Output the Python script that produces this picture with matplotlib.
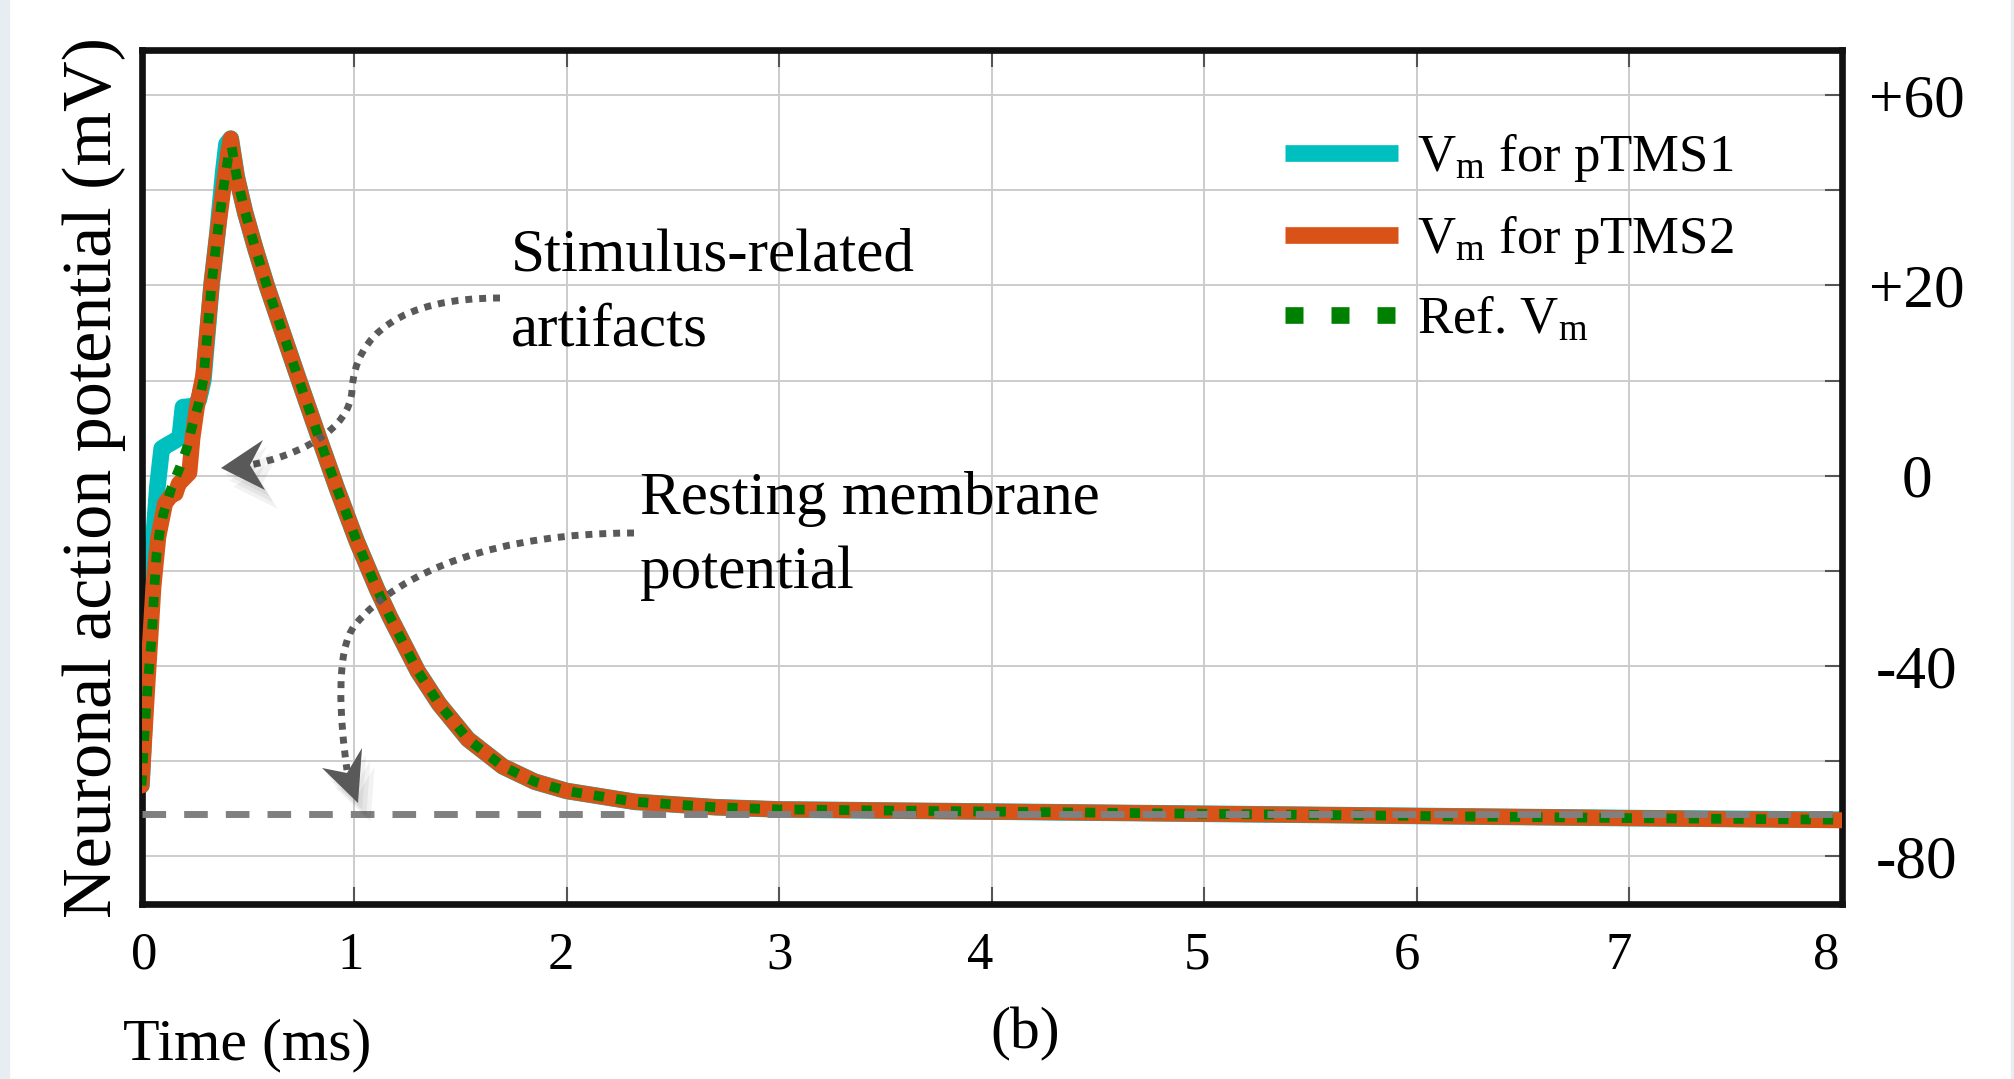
import matplotlib
matplotlib.use("Agg")
import matplotlib.pyplot as plt
import matplotlib.transforms as mtransforms
import matplotlib.patheffects as pe
from matplotlib.lines import Line2D
from matplotlib.path import Path
from matplotlib.patches import PathPatch, Polygon, Rectangle

plt.rcParams['font.family'] = ['Liberation Serif', 'DejaVu Serif']
plt.rcParams['mathtext.fontset'] = 'custom'
plt.rcParams['mathtext.rm'] = 'Liberation Serif'
plt.rcParams['mathtext.it'] = 'Liberation Serif:italic'

# ---- data (time in ms, membrane potential) ----
t_ref = [0.0, 0.015, 0.03, 0.048, 0.06, 0.071, 0.087, 0.103, 0.142, 0.181, 0.213,
         0.236, 0.267, 0.291, 0.33, 0.357, 0.385, 0.408, 0.424, 0.448, 0.487, 0.534,
         0.589, 0.667, 0.73, 0.824, 0.918, 1.012, 1.107, 1.169, 1.3, 1.4, 1.536, 1.7,
         1.85, 2.0, 2.32, 2.7, 3.0, 4.0, 5.0, 6.0, 7.0, 8.0]
v_ref = [-67.0, -57.0, -48.0, -39.7, -31.0, -24.3, -20.0, -17.0, -12.1, -8.4, -5.0,
         -1.3, 3.0, 7.6, 25.3, 34.5, 42.8, 48.6, 50.5, 45.0, 38.5, 32.0,
         25.0, 16.0, 8.8, -1.8, -12.2, -22.0, -30.8, -36.0, -46.0, -52.0, -58.5, -63.5,
         -66.3, -68.0, -70.0, -71.0, -71.4, -71.8, -72.2, -72.6, -73.0, -73.3]

# pTMS1: artifact steps on the upstroke, then follows the reference
t_p1 = [0.0, 0.02, 0.05, 0.075, 0.095, 0.12, 0.16, 0.18, 0.195, 0.25, 0.27, 0.291,
        0.33, 0.357, 0.385, 0.40, 0.42, 0.448, 0.487, 0.534, 0.589, 0.667, 0.73, 0.824,
        0.918, 1.012, 1.107, 1.169, 1.3, 1.4, 1.536, 1.7, 1.85, 2.0, 2.32, 2.7, 3.0,
        4.0, 5.0, 6.0, 7.0, 8.0]
v_p1 = [-67.0, -50.0, -25.0, -12.0, -5.0, -4.4, -3.5, -3.0, 2.6, 2.8, 4.0, 7.6,
        25.3, 34.5, 46.0, 51.0, 52.0, 45.0, 38.5, 32.0, 25.0, 16.0, 8.8, -1.8,
        -12.2, -22.0, -30.8, -36.0, -46.0, -52.0, -58.5, -63.5, -66.3, -68.0, -70.0, -71.0, -71.4,
        -71.8, -72.2, -72.6, -73.0, -73.3]

# pTMS2: smaller artifact steps
t_p2 = [0.0, 0.015, 0.03, 0.04, 0.056, 0.079, 0.111, 0.142, 0.16, 0.175, 0.2, 0.225,
        0.24, 0.26, 0.291, 0.33, 0.357, 0.385, 0.408, 0.42, 0.448, 0.487, 0.534, 0.589,
        0.667, 0.73, 0.824, 0.918, 1.012, 1.107, 1.169, 1.3, 1.4, 1.536, 1.7, 1.85,
        2.0, 2.32, 2.7, 3.0, 4.0, 5.0, 6.0, 7.0, 8.0]
v_p2 = [-67.0, -57.0, -47.0, -40.9, -30.5, -21.3, -15.1, -13.5, -13.3, -11.5, -10.5, -9.5,
        -3.0, 2.5, 8.5, 25.3, 34.5, 42.8, 49.5, 52.0, 45.0, 38.5, 32.0, 25.0,
        16.0, 8.8, -1.8, -12.2, -22.0, -30.8, -36.0, -46.0, -52.0, -58.5, -63.5, -66.3,
        -68.0, -70.0, -71.0, -71.4, -71.8, -72.2, -72.6, -73.0, -73.4]

rest_v = -72.2

x_ticks = [0, 1, 2, 3, 4, 5, 6, 7, 8]
y_grid = [60, 42.5, 25, 7.5, -10, -27.5, -45, -62.5, -80]
y_labels = ['+60', '', '+20', '', '0', '', '-40', '', '-80']
series_labels = [r'V$_{\rm m}$ for pTMS1', r'V$_{\rm m}$ for pTMS2', r'Ref. V$_{\rm m}$']

c_p1 = '#00BFBF'
c_p2 = '#D95319'
c_ref = '#008000'

W, H = 2015, 1079
fig = plt.figure(figsize=(W / 100, H / 100), dpi=100)
px = mtransforms.Affine2D().scale(1 / W, -1 / H).translate(0, 1) + fig.transFigure

# light side strips
fig.add_artist(Rectangle((0, 0), 9, H, transform=px, color='#e8edf2', zorder=0))
fig.add_artist(Rectangle((W - 4, 0), 4, H, transform=px, color='#e8edf2', zorder=0))

ax = fig.add_axes([141.5 / W, 1 - 904 / H, (1842 - 141.5) / W, (904 - 50) / H])

ax.plot(t_p1, v_p1, color=c_p1, lw=12, solid_capstyle='round', solid_joinstyle='round', zorder=2)
ax.plot(t_p2, v_p2, color=c_p2, lw=11.5, solid_capstyle='round', solid_joinstyle='round', zorder=3)
ax.plot(t_ref, v_ref, color=c_ref, lw=7, ls=(0, (1.05, 1.25)), dash_capstyle='butt', zorder=4)
ax.axhline(rest_v, color='#808080', lw=5, ls=(0, (3.4, 2.6)), dash_capstyle='butt', zorder=5)

ax.set_xlim(0, 8)
ax.set_ylim(-88.8, 68.3)
ax.set_xticks(x_ticks)
ax.set_xticklabels([str(v) for v in x_ticks])
ax.set_yticks(y_grid)
ax.set_yticklabels(y_labels)
ax.set_axisbelow(True)
ax.grid(True, color='#cccccc', lw=1.4)
ax.tick_params(axis='x', direction='in', top=True, bottom=True, length=12, width=1.5,
               color='#555555', labelsize=38, pad=20)
ax.tick_params(axis='y', direction='in', left=False, right=True, labelleft=False,
               labelright=True, length=12, width=1.5, color='#555555', labelsize=44, pad=54)
for lab in ax.get_yticklabels():
    lab.set_ha('center')
# the x labels sit a little off their gridlines in the original
x_label_shift = [3, -3, -6, 0, -12, -7, -10, -11, -16]
for lab, dx in zip(ax.get_xticklabels(), x_label_shift):
    lab.set_transform(lab.get_transform() + mtransforms.Affine2D().translate(dx, 0))
for s in ax.spines.values():
    s.set_linewidth(4.8)
    s.set_color('#111111')

handles = [Line2D([], [], color=c_p1, lw=12, solid_capstyle='butt'),
           Line2D([], [], color=c_p2, lw=12, solid_capstyle='butt'),
           Line2D([], [], color=c_ref, lw=12, ls=(0, (1.08, 1.68)), dash_capstyle='butt')]
ax.legend(handles, series_labels, loc='upper left', bbox_to_anchor=(0.6727, 0.905),
          frameon=False, fontsize=38, handlelength=2.14, handletextpad=0.36,
          labelspacing=0.55, borderpad=0, borderaxespad=0)

# annotations
fig.text(511 / W, 1 - 293 / H, 'Stimulus-related\nartifacts', fontsize=44,
         ha='left', va='center', linespacing=1.45)
fig.text(640 / W, 1 - 536 / H, 'Resting membrane\npotential', fontsize=44,
         ha='left', va='center', linespacing=1.45)

arrow_col = '#595959'
shaft1 = Path([(500, 298), (400, 298), (355, 335), (352, 390),
               (350, 430), (300, 455), (250, 465)],
              [Path.MOVETO, Path.CURVE4, Path.CURVE4, Path.CURVE4,
               Path.CURVE4, Path.CURVE4, Path.CURVE4])
shaft2 = Path([(634, 533), (500, 533), (400, 570), (355, 625),
               (335, 650), (340, 720), (347, 770)],
              [Path.MOVETO, Path.CURVE4, Path.CURVE4, Path.CURVE4,
               Path.CURVE4, Path.CURVE4, Path.CURVE4])
soft = [pe.SimplePatchShadow(offset=(o, -1.5 * o), shadow_rgbFace='k', alpha=0.05)
        for o in (3, 6, 9)] + [pe.Normal()]
for shaft in (shaft1, shaft2):
    fig.add_artist(PathPatch(shaft, transform=px, fill=False, ec=arrow_col, lw=5,
                             ls=(0, (1, 1)), zorder=6))
head1 = [(221, 468), (263, 440), (250, 465), (265, 490)]
head2 = [(358, 803), (322, 768), (347, 773), (362, 748)]
for head in (head1, head2):
    fig.add_artist(Polygon(head, closed=True, transform=px, fc=arrow_col, ec='none',
                           zorder=6, path_effects=soft))

fig.text(247 / W, 1 - 1045 / H, 'Time (ms)', fontsize=43, ha='center', va='center')
fig.text(1025 / W, 1 - 1034 / H, '(b)', fontsize=43, ha='center', va='center')
fig.text(94 / W, 1 - 477 / H, 'Neuronal action potential (mV)', fontsize=50.5,
         rotation=90, ha='center', va='center')

fig.savefig('out.png', dpi=100)
